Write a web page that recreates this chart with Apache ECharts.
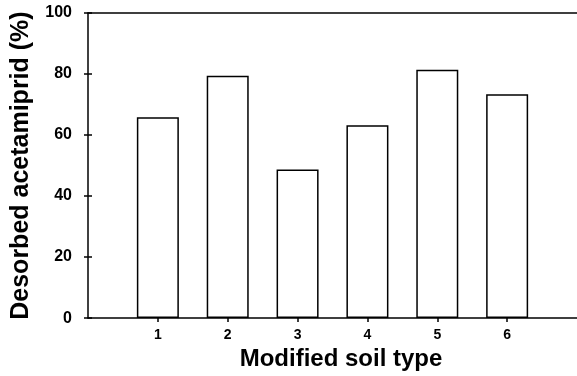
<!DOCTYPE html>
<html>
<head>
<meta charset="utf-8">
<script src="https://cdn.jsdelivr.net/npm/echarts@6/dist/echarts.min.js"></script>
<style>html,body{margin:0;padding:0;background:#fff;}#c{width:577px;height:376px;}</style>
</head>
<body>
<div id="c"></div>
<script>
const categories = [1, 2, 3, 4, 5, 6];
const values = [65.8, 79.4, 48.7, 63.2, 81.4, 73.4];
const yTicks = [0, 20, 40, 60, 80, 100];

const FONT = '"Liberation Sans", Arial, sans-serif';
const chart = echarts.init(document.getElementById('c'), null, {renderer: 'canvas'});
const lineStyle = {color: '#000', width: 1.5};
chart.setOption({
  animation: false,
  backgroundColor: '#fff',
  grid: {left: 88, right: 0, top: 13, bottom: 57},
  xAxis: [{
    type: 'value', min: 0, max: 7, interval: 1,
    position: 'bottom',
    splitLine: {show: false},
    axisLine: {show: true, onZero: false, lineStyle: lineStyle},
    axisTick: {show: true, length: 4, customValues: categories, lineStyle: lineStyle},
    axisLabel: {customValues: categories, margin: 10, color: '#000', fontFamily: FONT, fontWeight: 'bold', fontSize: 14},
    name: 'Modified soil type', nameLocation: 'middle', nameGap: 27,
    nameTextStyle: {color: '#000', fontFamily: FONT, fontWeight: 'bold', fontSize: 24, padding: [0, 0, 0, 17]}
  }, {
    type: 'value', min: 0, max: 7, position: 'top',
    splitLine: {show: false},
    axisLine: {show: true, onZero: false, lineStyle: lineStyle},
    axisTick: {show: false}, axisLabel: {show: false}
  }],
  yAxis: [{
    type: 'value', min: 0, max: 100, interval: 20,
    splitLine: {show: false},
    axisLine: {show: true, onZero: false, lineStyle: lineStyle},
    axisTick: {show: true, length: 4, lineStyle: lineStyle},
    axisLabel: {margin: 16, color: '#000', fontFamily: FONT, fontWeight: 'bold', fontSize: 16,
      formatter: v => yTicks.includes(v) ? String(v) : ''},
    name: 'Desorbed acetamiprid (%)', nameLocation: 'middle', nameGap: 54,
    nameTextStyle: {color: '#000', fontFamily: FONT, fontWeight: 'bold', fontSize: 25}
  }, {
    type: 'value', min: 0, max: 100, interval: 20, position: 'left',
    splitLine: {show: false},
    axisLine: {show: false, onZero: false},
    axisTick: {show: true, inside: true, length: 4, lineStyle: lineStyle},
    axisLabel: {show: false}
  }],
  series: [{
    type: 'bar',
    xAxisIndex: 0, yAxisIndex: 0,
    barWidth: 42,
    data: categories.map((c, i) => [c, values[i]]),
    itemStyle: {color: '#fff', borderColor: '#000', borderWidth: 1.5}
  }]
});
</script>
</body>
</html>
